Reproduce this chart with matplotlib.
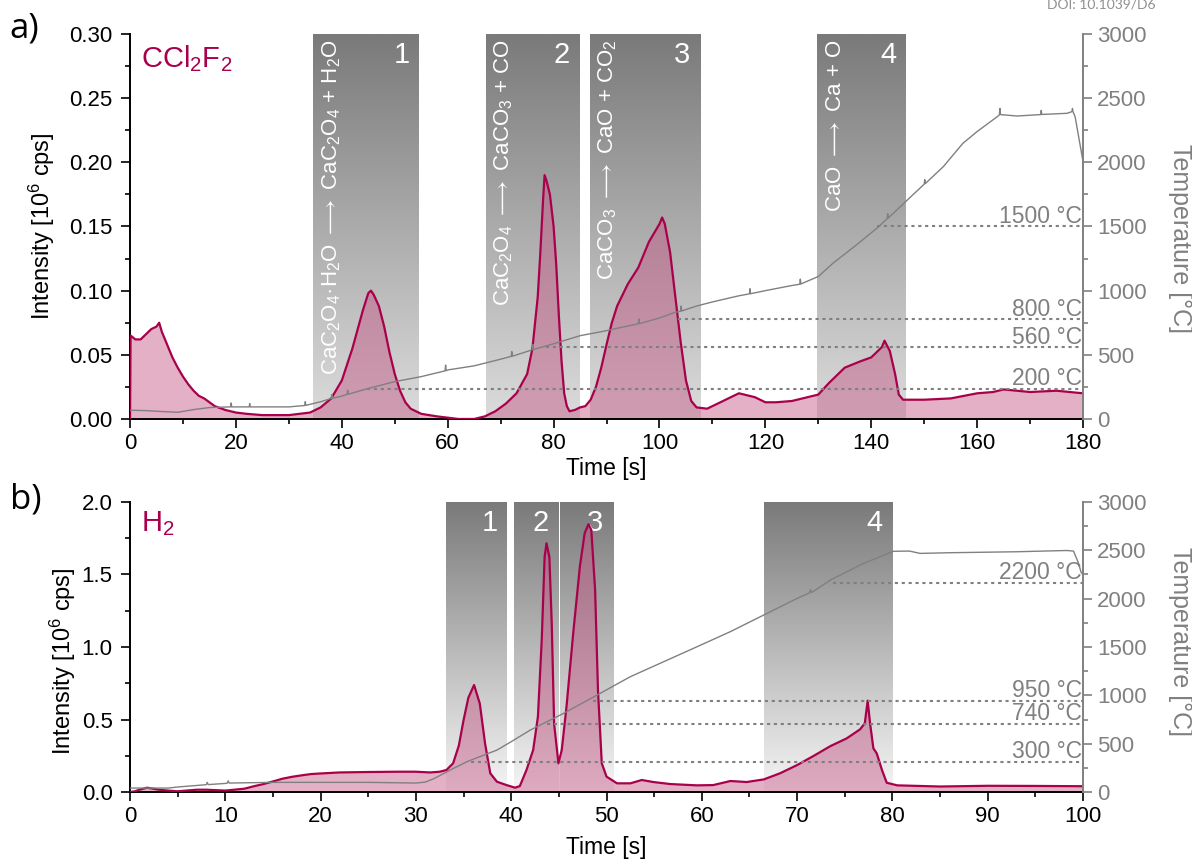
import numpy as np
import matplotlib
matplotlib.use("Agg")
import matplotlib.pyplot as plt
from matplotlib.colors import LinearSegmentedColormap
from matplotlib.ticker import MultipleLocator, FormatStrFormatter

plt.rcParams['font.family'] = ['Liberation Sans', 'DejaVu Sans']
plt.rcParams['mathtext.fontset'] = 'custom'
plt.rcParams['mathtext.rm'] = 'Liberation Sans'
plt.rcParams['mathtext.it'] = 'Liberation Sans:italic'
plt.rcParams['mathtext.bf'] = 'Liberation Sans:bold'
plt.rcParams['mathtext.fallback'] = 'stixsans'

# ---- panel a: CCl2F2 signal, time [s] / intensity [1e6 cps]
a_time = [0, 0.1, 1, 2, 3, 4, 5, 5.5, 6, 7, 8, 9, 10, 11, 12, 13, 14, 15, 16, 18, 20, 22, 25,
          28, 30, 32, 34, 36, 38, 40, 42, 43, 44, 45, 45.5, 46, 47, 48, 49, 50, 51, 52, 53, 55,
          58, 60, 62, 65, 67, 69, 71, 73, 75, 76, 77, 77.5, 78, 78.3, 78.7, 79.3, 80, 80.5, 81,
          81.5, 82, 82.5, 83, 84, 85, 86, 87, 88, 89, 90, 91, 92, 94, 96, 97, 98, 99, 100, 100.5,
          101, 102, 103, 104, 105, 106, 107, 109, 110, 112, 115, 118, 120, 122, 125, 128, 130,
          132, 135, 138, 140, 141, 142, 142.5, 143.5, 144.5, 145.2, 146, 148, 150, 155, 160, 163,
          165, 170, 175, 180]
a_int = [0.0, 0.065, 0.062, 0.062, 0.066, 0.070, 0.072, 0.075, 0.068, 0.058, 0.048, 0.040, 0.033,
         0.027, 0.022, 0.018, 0.016, 0.013, 0.010, 0.007, 0.005, 0.004, 0.003, 0.003, 0.003,
         0.004, 0.005, 0.009, 0.016, 0.030, 0.055, 0.070, 0.085, 0.098, 0.100, 0.097, 0.088,
         0.072, 0.052, 0.035, 0.022, 0.013, 0.008, 0.004, 0.002, 0.001, 0.000, 0.000, 0.002,
         0.006, 0.012, 0.020, 0.035, 0.055, 0.095, 0.130, 0.170, 0.190, 0.185, 0.175, 0.150,
         0.120, 0.080, 0.045, 0.020, 0.010, 0.006, 0.007, 0.009, 0.010, 0.015, 0.025, 0.040,
         0.058, 0.075, 0.088, 0.105, 0.118, 0.128, 0.138, 0.145, 0.152, 0.157, 0.152, 0.130,
         0.095, 0.060, 0.030, 0.014, 0.009, 0.008, 0.010, 0.014, 0.020, 0.017, 0.013, 0.013,
         0.014, 0.017, 0.019, 0.028, 0.040, 0.045, 0.048, 0.052, 0.056, 0.061, 0.053, 0.035,
         0.019, 0.015, 0.015, 0.015, 0.016, 0.020, 0.021, 0.023, 0.021, 0.022, 0.020]
a_temp_time = [0, 3, 6, 9, 12, 15, 18, 19, 19.1, 19.2, 22.5, 22.6, 22.7, 25, 30, 33, 33.1, 33.2,
               36, 38, 38.1, 38.2, 40, 41, 41.1, 41.2, 45, 50, 55, 59.5, 59.6, 59.7, 60, 65, 70,
               72, 72.1, 72.2, 75, 76, 76.1, 76.2, 80, 85, 89, 95, 96, 96.1, 96.2, 100, 103, 104,
               104.1, 104.2, 107, 110, 115, 117, 117.1, 117.2, 120, 125, 126.5, 126.6, 126.7, 128,
               130, 132.8, 137, 141.1, 143, 143.1, 143.2, 146.8, 150, 150.1, 150.2, 153.6, 157.3,
               160, 163.8, 164.2, 164.3, 164.4, 167.5, 172, 172.1, 172.2, 177, 177.9, 178, 178.1,
               178.5, 180]
a_temp = [68, 65, 58, 52, 73, 89, 93, 94, 125, 94, 94, 120, 94, 94, 94, 105, 135, 106, 134, 160,
          190, 161, 178, 192, 225, 193, 238, 291, 330, 375, 420, 376, 382, 414, 466, 488, 525, 489,
          526, 540, 580, 541, 586, 649, 680, 733, 742, 780, 743, 787, 832, 840, 880, 842, 880, 912,
          960, 975, 1015, 976, 1000, 1040, 1050, 1090, 1052, 1075, 1110, 1215, 1350, 1488, 1560,
          1600, 1565, 1706, 1830, 1865, 1834, 1966, 2148, 2240, 2356, 2370, 2420, 2372, 2361,
          2372, 2405, 2373, 2382, 2395, 2420, 2395, 2356, 2005]
a_boxes = [(34.6, 54.6), (67.2, 84.8), (86.9, 107.7), (129.8, 146.6)]
a_box_names = ['1', '2', '3', '4']
a_reactions = ['CaC$_2$O$_4$·H$_2$O $\\longrightarrow$ CaC$_2$O$_4$ + H$_2$O',
               'CaC$_2$O$_4$ $\\longrightarrow$ CaCO$_3$ + CO',
               'CaCO$_3$ $\\longrightarrow$ CaO + CO$_2$',
               'CaO $\\longrightarrow$ Ca + O']
a_levels = [235, 557, 778, 1500]
a_level_names = ['200 °C', '560 °C', '800 °C', '1500 °C']
a_level_start = [44.8, 78.6, 103.5, 141.1]

# ---- panel b: H2 signal
b_time = [0, 0.5, 1, 1.8, 3, 4, 5, 7, 8, 10, 12, 13, 14, 15, 16, 17, 18, 19, 20, 22, 25, 28, 30,
          31.5, 32.5, 33.2, 33.9, 34.5, 35.0, 35.5, 36.1, 36.7, 37.25, 37.8, 38.5, 39.5, 40.4,
          40.9, 41.6, 42.3, 42.8, 43.2, 43.5, 43.7, 44.0, 44.25, 44.5, 44.95, 45.3, 45.8, 46.5,
          47.2, 47.7, 48.1, 48.4, 48.8, 49.1, 49.5, 50.0, 51.1, 52.5, 53.7, 54.9, 56.7, 59.5,
          61.2, 63.0, 64.7, 66.5, 68.2, 70.0, 71.7, 73.5, 75.2, 76.6, 77.1, 77.4, 77.65, 78.0,
          78.35, 78.9, 79.4, 80.5, 85, 90, 95, 100]
b_int = [0.0, 0.005, 0.016, 0.030, 0.016, 0.010, 0.005, 0.016, 0.016, 0.010, 0.023, 0.040, 0.055,
         0.073, 0.092, 0.105, 0.115, 0.124, 0.128, 0.135, 0.138, 0.140, 0.140, 0.135, 0.140,
         0.152, 0.198, 0.320, 0.497, 0.650, 0.738, 0.610, 0.336, 0.129, 0.071, 0.048, 0.030,
         0.041, 0.152, 0.290, 0.520, 1.050, 1.620, 1.715, 1.620, 1.160, 0.470, 0.198, 0.290,
         0.590, 1.094, 1.554, 1.784, 1.846, 1.807, 1.393, 0.703, 0.198, 0.106, 0.060, 0.060,
         0.083, 0.069, 0.055, 0.046, 0.048, 0.076, 0.069, 0.087, 0.129, 0.186, 0.248, 0.317,
         0.370, 0.432, 0.474, 0.630, 0.474, 0.301, 0.267, 0.152, 0.064, 0.046, 0.038, 0.043,
         0.042, 0.040]
b_temp_time = [0, 4, 5, 8, 8.1, 8.2, 10, 10.2, 10.3, 10.4, 15, 20, 25, 30, 31, 32, 34, 35.5,
               38.5, 40, 42, 45.5, 49, 52.5, 56, 59.5, 63, 66.5, 70, 71.3, 71.4, 71.5, 73.5, 77,
               80.1, 81.8, 82.9, 86, 93, 98.3, 99, 99.5, 99.8, 100]
b_temp = [41, 41, 52, 76, 100, 77, 89, 92, 115, 93, 100, 100, 100, 93, 103, 144, 248, 320, 434,
          521, 641, 814, 1003, 1193, 1348, 1503, 1659, 1831, 2003, 2060, 2095, 2062, 2193, 2366,
          2490, 2492, 2468, 2475, 2485, 2498, 2492, 2373, 2271, 2250]
b_boxes = [(33.2, 39.6), (40.3, 45.0), (45.1, 50.7), (66.5, 80.0)]
b_box_names = ['1', '2', '3', '4']
b_levels = [312, 705, 942, 2163]
b_level_names = ['300 °C', '740 °C', '950 °C', '2200 °C']
b_level_start = [35.8, 43.7, 48.6, 73.8]

RED = '#a8004a'
FILL = '#c2507f'
GREY = '#808080'


def panel(ax, t, inten, tt, temp, xmax, ymax, boxes, names, levels, level_names,
          level_start, gas, light, reactions=None):
    cmap = LinearSegmentedColormap.from_list('box', [light, '#7a7a7a'])
    grad = np.linspace(0, 1, 256).reshape(-1, 1)
    for (x0, x1), name in zip(boxes, names):
        ax.imshow(grad, extent=[x0, x1, 0, ymax], origin='lower', aspect='auto',
                  cmap=cmap, zorder=0)
        ax.annotate(name, (x1, ymax), xytext=(-7, -5), textcoords='offset points',
                    ha='right', va='top', color='white', fontsize=21, zorder=1)
    if reactions:
        for (x0, x1), r in zip(boxes, reactions):
            ax.annotate(r, (x0, ymax), xytext=(13, -4), textcoords='offset points',
                        ha='center', va='top', rotation=90, color='white',
                        fontsize=16, zorder=1)

    ax.fill_between(t, 0, inten, color=FILL, alpha=0.45, lw=0, zorder=2)
    ax.plot(t, inten, color=RED, lw=1.6, zorder=3)
    ax.text(0.011, 0.975, gas, transform=ax.transAxes, color=RED, fontsize=21,
            ha='left', va='top')

    ax.set_xlim(0, xmax)
    ax.set_ylim(0, ymax)
    for s in ['top', 'right']:
        ax.spines[s].set_visible(False)
    for s in ['left', 'bottom']:
        ax.spines[s].set_linewidth(1.4)
    ax.tick_params(which='both', direction='out', width=1.2, labelsize=16)
    ax.tick_params(which='major', length=6.5)
    ax.tick_params(which='minor', length=3.7)
    ax.tick_params(axis='y', pad=6)

    ax2 = ax.twinx()
    ax2.plot(tt, temp, color=GREY, lw=1.0, zorder=3)
    for lv, nm, x0 in zip(levels, level_names, level_start):
        ax2.hlines(lv, x0, xmax, colors=GREY, linestyles=(0, (1.5, 1.8)), lw=1.5)
        ax2.annotate(nm, (xmax, lv), xytext=(-1, 2.5), textcoords='offset points',
                     ha='right', va='baseline', color=GREY, fontsize=16.5)
    ax2.set_ylim(0, 3000)
    ax2.set_xlim(0, xmax)
    for s in ['top', 'left', 'bottom']:
        ax2.spines[s].set_visible(False)
    ax2.spines['right'].set_color(GREY)
    ax2.spines['right'].set_linewidth(1.4)
    ax2.yaxis.set_major_locator(MultipleLocator(500))
    ax2.yaxis.set_minor_locator(MultipleLocator(250))
    ax2.tick_params(which='both', direction='out', width=1.2, colors=GREY, labelsize=16)
    ax2.tick_params(which='major', length=6.5)
    ax2.tick_params(which='minor', length=3.7)
    return ax2


fig = plt.figure(figsize=(11.92, 8.61), dpi=100)
ax_a = fig.add_axes([0.1091, 0.5134, 0.7995, 0.4471])
ax_b = fig.add_axes([0.1091, 0.0801, 0.7995, 0.3369])

panel(ax_a, a_time, a_int, a_temp_time, a_temp, 180, 0.30, a_boxes, a_box_names,
      a_levels, a_level_names, a_level_start, 'CCl$_2$F$_2$', '#dcdcdc', a_reactions)
ax_a.xaxis.set_major_locator(MultipleLocator(20))
ax_a.xaxis.set_minor_locator(MultipleLocator(10))
ax_a.yaxis.set_major_locator(MultipleLocator(0.05))
ax_a.yaxis.set_minor_locator(MultipleLocator(0.025))
ax_a.yaxis.set_major_formatter(FormatStrFormatter('%.2f'))

panel(ax_b, b_time, b_int, b_temp_time, b_temp, 100, 2.0, b_boxes, b_box_names,
      b_levels, b_level_names, b_level_start, 'H$_2$', '#f5f5f5')
ax_b.xaxis.set_major_locator(MultipleLocator(10))
ax_b.xaxis.set_minor_locator(MultipleLocator(5))
ax_b.yaxis.set_major_locator(MultipleLocator(0.5))
ax_b.yaxis.set_minor_locator(MultipleLocator(0.25))
ax_b.yaxis.set_major_formatter(FormatStrFormatter('%.1f'))

# axis titles
ax_a.set_xlabel('Time [s]', fontsize=16.5)
ax_a.xaxis.set_label_coords(0.5, -0.100)
ax_b.set_xlabel('Time [s]', fontsize=16.5)
ax_b.xaxis.set_label_coords(0.5, -0.150)
ax_a.set_ylabel('Intensity [10$^6$ cps]', fontsize=17)
ax_a.yaxis.set_label_coords(-0.077, 0.50)
ax_b.set_ylabel('Intensity [10$^6$ cps]', fontsize=17)
ax_b.yaxis.set_label_coords(-0.055, 0.45)
ax_a.text(1.102, 0.47, 'Temperature [°C]', transform=ax_a.transAxes, rotation=270,
          ha='center', va='center', color=GREY, fontsize=18)
ax_b.text(1.102, 0.52, 'Temperature [°C]', transform=ax_b.transAxes, rotation=270,
          ha='center', va='center', color=GREY, fontsize=18)

fig.text(0.008, 0.967, 'a)', fontsize=25, family='Open Sans', va='center')
fig.text(0.008, 0.420, 'b)', fontsize=25, family='Open Sans', va='center')
fig.text(0.878, 0.995, 'DOI: 10.1039/D6', fontsize=10, family='Lato', color='#909090',
         va='center')

fig.savefig('out.png', dpi=100)
